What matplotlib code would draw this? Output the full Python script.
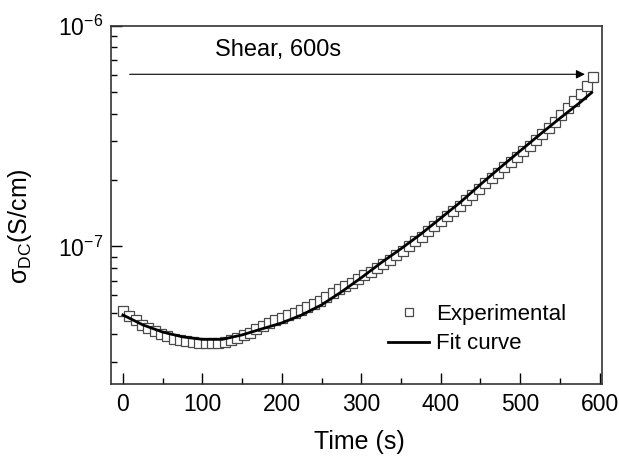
import numpy as np
import matplotlib
matplotlib.use("Agg")
import matplotlib.pyplot as plt
from matplotlib.ticker import MultipleLocator, LogLocator, NullFormatter

plt.rcParams["font.family"] = ["Liberation Sans", "DejaVu Sans"]
plt.rcParams["mathtext.fontset"] = "custom"
plt.rcParams["mathtext.rm"] = "Liberation Sans"
plt.rcParams["mathtext.it"] = "Liberation Sans:italic"
plt.rcParams["mathtext.bf"] = "Liberation Sans:bold"
plt.rcParams["axes.unicode_minus"] = False

# experimental points, time in s, conductivity in units of 1e-8 S/cm
time_exp = [
    0, 8, 16, 24, 32, 40, 48, 56, 64, 72, 80, 88, 96, 104, 112,
    120, 128, 136, 144, 152, 160, 168, 176, 184, 192, 200, 208, 216, 224, 232,
    240, 248, 256, 264, 272, 280, 288, 296, 304, 312, 320, 328, 336, 344, 352,
    360, 368, 376, 384, 392, 400, 408, 416, 424, 432, 440, 448, 456, 464, 472,
    480, 488, 496, 504, 512, 520, 528, 536, 544, 552, 560, 568, 576, 584, 592,
]
sigma_exp = [
    5.10, 4.83, 4.62, 4.42, 4.27, 4.13, 3.99, 3.92, 3.81, 3.75, 3.71, 3.68, 3.65, 3.63, 3.63,
    3.63, 3.67, 3.75, 3.84, 3.95, 4.07, 4.24, 4.37, 4.51, 4.65, 4.74, 4.87, 5.00, 5.14, 5.31,
    5.49, 5.68, 5.91, 6.18, 6.38, 6.61, 6.86, 7.12, 7.39, 7.69, 8.00, 8.32, 8.72, 9.13, 9.58,
    10.05, 10.55, 11.08, 11.70, 12.34, 13.02, 13.73, 14.48, 15.29, 16.20, 17.18, 18.22, 19.30, 20.4, 21.6,
    22.9, 24.2, 25.5, 27.0, 28.5, 30.3, 32.2, 34.3, 36.6, 39.4, 42.4, 45.6, 49.0, 53.5, 58.5,
]

# fit curve
time_fit = [0, 25, 50, 75, 100, 125, 150, 175, 200, 225, 250, 275, 300,
            325, 350, 375, 400, 425, 450, 475, 500, 525, 550, 575, 590]
sigma_fit = [4.89, 4.41, 4.09, 3.89, 3.79, 3.79, 3.97, 4.23, 4.50, 4.89, 5.43, 6.22, 7.21,
             8.43, 9.76, 11.37, 13.43, 15.88, 19.08, 22.79, 27.1, 32.2, 38.1, 44.8, 49.8]

unit = 1e-8

fig = plt.figure(figsize=(6.19, 4.57), dpi=100)
ax = fig.add_axes([0.1793, 0.159, 0.7932, 0.7845])

ax.plot(time_exp, np.array(sigma_exp) * unit, linestyle="none", marker="s",
        markersize=6.5, markerfacecolor="white", markeredgecolor="#4a4a4a",
        markeredgewidth=0.9, label="Experimental", zorder=2)
ax.plot(time_fit, np.array(sigma_fit) * unit, color="black", lw=2.0,
        label="Fit curve", zorder=3)

ax.set_yscale("log")
ax.set_xlim(-15, 603)
ax.set_ylim(2.37e-8, 1e-6)

ax.xaxis.set_major_locator(MultipleLocator(100))
ax.xaxis.set_minor_locator(MultipleLocator(50))
ax.yaxis.set_major_locator(LogLocator(base=10, numticks=10))
ax.yaxis.set_minor_locator(LogLocator(base=10, subs=np.arange(2, 10), numticks=20))
ax.yaxis.set_minor_formatter(NullFormatter())

ax.tick_params(which="both", direction="in", top=False, right=False,
               labelsize=16.5, colors="black")
ax.tick_params(which="major", length=8, width=1.0, pad=6)
ax.tick_params(which="minor", length=4.5, width=1.0)
for s in ax.spines.values():
    s.set_color("#333333")
    s.set_linewidth(1.2)

ax.set_xlabel("Time (s)", fontsize=18)
ax.set_ylabel(r"σ$_{\mathrm{DC}}$(S/cm)", fontsize=18)
ax.xaxis.set_label_coords(0.505, -0.128)
ax.yaxis.set_label_coords(-0.157, 0.44)

# shear arrow
ax.annotate("", xy=(585, 6.03e-7), xytext=(5, 6.03e-7),
            arrowprops=dict(arrowstyle="-|>", color="black", lw=0.8,
                            mutation_scale=13))
ax.text(116, 7.75e-7, "Shear, 600s", fontsize=17, ha="left", va="center")

ax.legend(loc="upper left", bbox_to_anchor=(388 / 619, 1 - 304 / 457),
          bbox_transform=fig.transFigure, frameon=False, fontsize=16,
          handlelength=1.85, handletextpad=0.32, labelspacing=0.38,
          borderpad=0, borderaxespad=0, markerscale=0.85)

fig.savefig("out.png", dpi=100)
